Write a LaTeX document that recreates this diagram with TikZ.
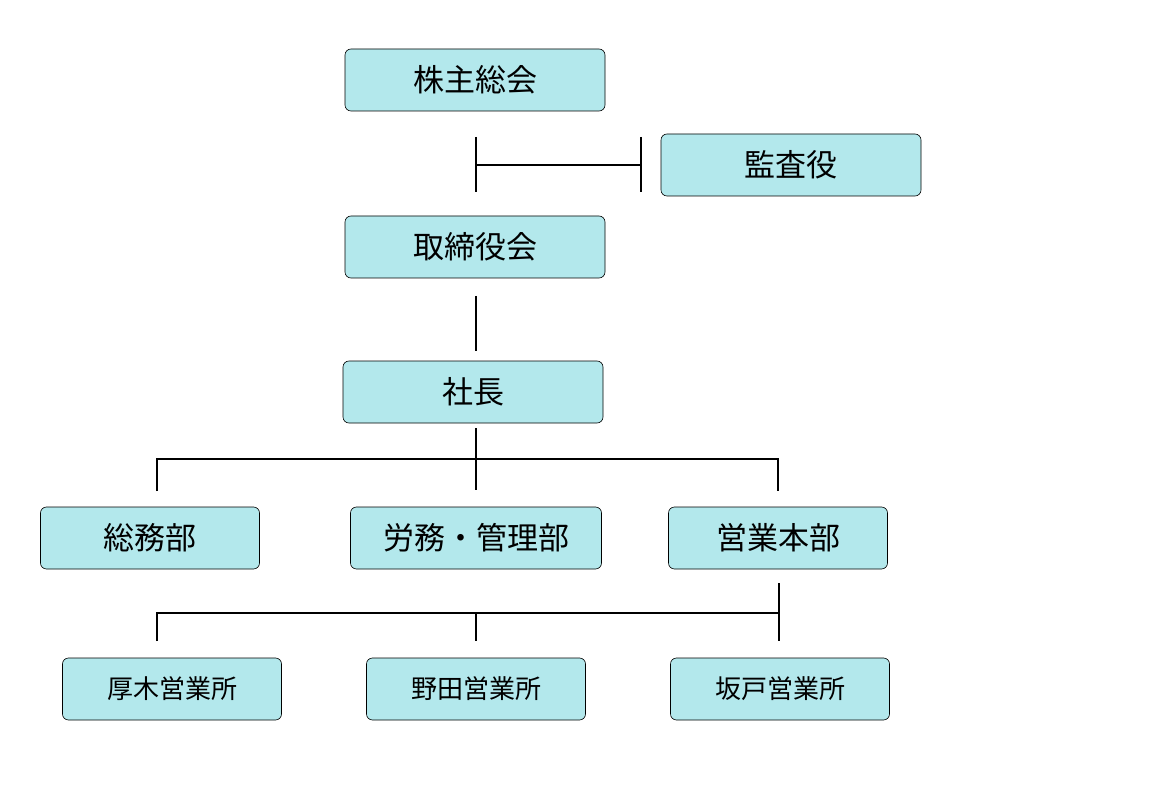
\documentclass[tikz,border=0pt]{standalone}
\usepackage{fontspec}
\newfontfamily\cjk{Noto Sans CJK JP}
\definecolor{boxfill}{HTML}{B3E8EC}
\tikzset{
  unit/.style={draw, rounded corners=6pt, fill=boxfill, line width=0.6pt, font=\cjk\fontsize{31}{36}\selectfont},
  bigunit/.style={unit, minimum width=260pt, minimum height=62pt},
  midunit/.style={unit, minimum width=219pt, minimum height=62pt},
  office/.style={unit, minimum width=219pt, minimum height=62pt, font=\cjk\fontsize{26}{30}\selectfont},
  link/.style={line width=2pt}
}
\begin{document}
\begin{tikzpicture}[x=1pt, y=-1pt]
\useasboundingbox (0,0) rectangle (1170,786);
% top
\node[bigunit] (meeting) at (475,80) {株主総会};
\node[bigunit] (auditor) at (791,165) {監査役};
\node[bigunit] (board) at (475,247) {取締役会};
\node[bigunit] (president) at (473,392) {社長};
% departments
\node[midunit] (general) at (150,538) {総務部};
\node[midunit, minimum width=251pt] (labor) at (476,538) {労務・管理部};
\node[midunit] (sales) at (778,538) {営業本部};
% offices
\node[office] (atsugi) at (172,689) {厚木営業所};
\node[office] (noda) at (476,689) {野田営業所};
\node[office] (sakado) at (780,689) {坂戸営業所};
% audit line
\coordinate (a1) at (476,137); \coordinate (a2) at (476,192);
\coordinate (b1) at (641,137); \coordinate (b2) at (641,192);
\draw[link] (a1) -- (a2);
\draw[link] (b1) -- (b2);
\draw[link] (476,165) -- (641,165);
% board to president
\coordinate (c1) at (476,296); \coordinate (c2) at (476,351);
\draw[link] (c1) -- (c2);
% president to departments
\draw[link] (476,428) -- (476,490);
\draw[link] (157,491) -- (157,459) -- (778,459) -- (778,491);
% sales to offices
\draw[link] (779,583) -- (779,641);
\draw[link] (157,641) -- (157,613) -- (779,613);
\draw[link] (476,613) -- (476,641);
\end{tikzpicture}
\end{document}
